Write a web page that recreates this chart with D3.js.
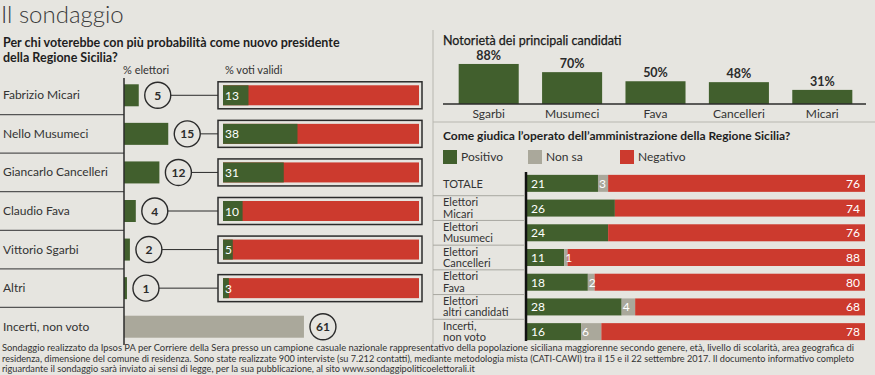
<!DOCTYPE html>
<html>
<head>
<meta charset="utf-8">
<script src="https://cdn.jsdelivr.net/npm/d3@7"></script>
<style>
  body { margin: 0; background: #e6e5e0; }
  svg { display: block; font-family: Lato, "Open Sans", sans-serif; }
</style>
</head>
<body>
<div id="chart"></div>
<script>
// --- data ---
const candidates = ["Fabrizio Micari", "Nello Musumeci", "Giancarlo Cancelleri", "Claudio Fava", "Vittorio Sgarbi", "Altri", "Incerti, non voto"];
const elettori = [5, 15, 12, 4, 2, 1, 61];
const votiValidi = [13, 38, 31, 10, 5, 3, null];

const notiNames = ["Sgarbi", "Musumeci", "Fava", "Cancelleri", "Micari"];
const notiValues = [88, 70, 50, 48, 31];

const groups = ["TOTALE", "Elettori|Micari", "Elettori|Musumeci", "Elettori|Cancelleri", "Elettori|Fava", "Elettori|altri candidati", "Incerti,|non voto"];
const positivo = [21, 26, 24, 11, 18, 28, 16];
const nonSa = [3, 0, 0, 1, 2, 4, 6];
const negativo = [76, 74, 76, 88, 80, 68, 78];

const footer = [
  "Sondaggio realizzato da Ipsos PA per Corriere della Sera presso un campione casuale nazionale rappresentativo della popolazione siciliana maggiorenne secondo genere, età, livello di scolarità, area geografica di",
  "residenza, dimensione del comune di residenza. Sono state realizzate 900 interviste (su 7.212 contatti), mediante metodologia mista (CATI-CAWI) tra il 15 e il 22 settembre 2017. Il documento informativo completo",
  "riguardante il sondaggio sarà inviato ai sensi di legge, per la sua pubblicazione, al sito www.sondaggipoliticoelettorali.it"
];

const green = "#415f2d", red = "#cc3a2e", grey = "#aaa89b", bg = "#e6e5e0", ink = "#2b2b2b";
const width = 875, height = 375;

const svg = d3.select("#chart").append("svg")
  .attr("width", width).attr("height", height);

svg.append("rect").attr("width", width).attr("height", height).attr("fill", bg);

// title
svg.append("text").attr("x", 1).attr("y", 23)
  .attr("font-size", 24).attr("font-weight", 300).attr("fill", "#3a3a3a")
  .text("Il sondaggio");

// dividers
svg.append("line").attr("x1", 433).attr("x2", 433).attr("y1", 30).attr("y2", 344)
  .attr("stroke", "#b8b7b0").attr("stroke-width", 1);
svg.append("line").attr("x1", 433).attr("x2", 875).attr("y1", 122).attr("y2", 122)
  .attr("stroke", "#b8b7b0").attr("stroke-width", 1);

// ---------- left panel ----------
const leftG = svg.append("g");
leftG.append("text").attr("x", 3).attr("y", 47).attr("font-size", 12.5).attr("font-weight", 700).attr("fill", "#1e1e1e")
  .text("Per chi voterebbe con più probabilità come nuovo presidente");
leftG.append("text").attr("x", 3).attr("y", 61.5).attr("font-size", 12.5).attr("font-weight", 700).attr("fill", "#1e1e1e")
  .text("della Regione Sicilia?");
leftG.append("text").attr("x", 123).attr("y", 74).attr("font-size", 11).attr("fill", "#333").text("% elettori");
leftG.append("text").attr("x", 225).attr("y", 74).attr("font-size", 11).attr("fill", "#333").text("% voti validi");

const yL = d3.scaleBand().domain(candidates).range([76, 346]);
const xL = d3.scaleLinear().domain([0, 100]).range([124, 419]);
const xV = d3.scaleLinear().domain([0, 100]).range([223, 419]);
const cy = d => yL(d) + yL.bandwidth() / 2;

const rows = leftG.selectAll("g.row").data(candidates).enter().append("g");

rows.append("text").attr("x", 3).attr("y", d => cy(d) + 4)
  .attr("font-size", 12).attr("fill", "#333").text(d => d);

// separators under names
leftG.selectAll("line.sep").data(candidates.slice(0, -1)).enter().append("line")
  .attr("x1", 0).attr("x2", 124)
  .attr("y1", d => yL(d) + yL.step()).attr("y2", d => yL(d) + yL.step())
  .attr("stroke", "#555").attr("stroke-width", 1.2);

rows.append("rect")
  .attr("x", xL(0)).attr("y", d => cy(d) - 11)
  .attr("width", (d, i) => xL(elettori[i]) - xL(0)).attr("height", 22)
  .attr("fill", (d, i) => i === candidates.length - 1 ? grey : green);

const r = 13;
const circX = (i) => xL(elettori[i]) + 19;

rows.filter((d, i) => votiValidi[i] != null).append("line")
  .attr("x1", d => circX(candidates.indexOf(d)) + r).attr("x2", 218)
  .attr("y1", d => cy(d)).attr("y2", d => cy(d))
  .attr("stroke", ink).attr("stroke-width", 1);

rows.append("circle").attr("cx", (d, i) => circX(i)).attr("cy", d => cy(d)).attr("r", r)
  .attr("fill", bg).attr("stroke", ink).attr("stroke-width", 1.4);
rows.append("text").attr("x", (d, i) => circX(i)).attr("y", d => cy(d) + 4.5)
  .attr("text-anchor", "middle").attr("font-size", 12).attr("font-weight", 700).attr("fill", ink)
  .text((d, i) => elettori[i]);

const boxed = rows.filter((d, i) => votiValidi[i] != null);
boxed.append("rect").attr("x", 218).attr("y", d => cy(d) - 13.5).attr("width", 204).attr("height", 27)
  .attr("fill", "none").attr("stroke", ink).attr("stroke-width", 1.5);
boxed.append("rect").attr("x", xV(0)).attr("y", d => cy(d) - 10).attr("width", xV(100) - xV(0)).attr("height", 20)
  .attr("fill", red);
boxed.append("rect").attr("x", xV(0)).attr("y", d => cy(d) - 10)
  .attr("width", d => xV(votiValidi[candidates.indexOf(d)]) - xV(0)).attr("height", 20)
  .attr("fill", green);
boxed.append("text").attr("x", xV(0) + 2).attr("y", d => cy(d) + 4.5)
  .attr("font-size", 12).attr("fill", "#fff").text(d => votiValidi[candidates.indexOf(d)]);

leftG.append("line").attr("x1", 124).attr("x2", 124).attr("y1", 78).attr("y2", 345)
  .attr("stroke", ink).attr("stroke-width", 1.5);

// ---------- notorietà ----------
const notoG = svg.append("g");
notoG.append("text").attr("x", 443).attr("y", 45).attr("font-size", 12.5).attr("fill", "#1a1a1a")
  .attr("stroke", "#1a1a1a").attr("stroke-width", 0.25)
  .text("Notorietà dei principali candidati");

const xN = d3.scaleBand().domain(notiNames).range([447, 864]).paddingInner(0.28).paddingOuter(0.14);
const yN = d3.scaleLinear().domain([0, 100]).range([104, 58.5]);

notoG.selectAll("rect").data(notiNames).enter().append("rect")
  .attr("x", d => xN(d)).attr("width", xN.bandwidth())
  .attr("y", (d, i) => yN(notiValues[i])).attr("height", (d, i) => yN(0) - yN(notiValues[i]))
  .attr("fill", green);
notoG.selectAll("text.val").data(notiNames).enter().append("text")
  .attr("x", d => xN(d) + xN.bandwidth() / 2).attr("y", (d, i) => yN(notiValues[i]) - 4)
  .attr("text-anchor", "middle").attr("font-size", 12.5).attr("font-weight", 700).attr("fill", ink)
  .text((d, i) => notiValues[i] + "%");
notoG.selectAll("text.cat").data(notiNames).enter().append("text")
  .attr("x", d => xN(d) + xN.bandwidth() / 2).attr("y", 118)
  .attr("text-anchor", "middle").attr("font-size", 12).attr("fill", "#333")
  .text(d => d);
notoG.append("line").attr("x1", 443).attr("x2", 866).attr("y1", yN(0)).attr("y2", yN(0))
  .attr("stroke", ink).attr("stroke-width", 1.5);

// ---------- giudizio ----------
const giudG = svg.append("g");
giudG.append("text").attr("x", 443).attr("y", 140).attr("font-size", 12).attr("font-weight", 700).attr("fill", "#1e1e1e")
  .text("Come giudica l\u2019operato dell\u2019amministrazione della Regione Sicilia?");

const legend = [["Positivo", green, 443], ["Non sa", grey, 528], ["Negativo", red, 620]];
legend.forEach(([t, c, x]) => {
  giudG.append("rect").attr("x", x).attr("y", 150).attr("width", 14).attr("height", 14).attr("fill", c);
  giudG.append("text").attr("x", x + 18).attr("y", 161).attr("font-size", 12).attr("fill", "#333").text(t);
});

const yG = d3.scaleBand().domain(groups).range([171, 344]);
const xG = d3.scaleLinear().domain([0, 100]).range([527, 865]);
const gy = d => yG(d) + yG.bandwidth() / 2;

const stack = groups.map((g, i) => [
  { x0: 0, x1: positivo[i], c: green },
  { x0: positivo[i], x1: positivo[i] + nonSa[i], c: grey },
  { x0: positivo[i] + nonSa[i], x1: 100, c: red }
]);

const grows = giudG.selectAll("g.grow").data(groups).enter().append("g");
grows.selectAll("rect").data((d, i) => stack[i].map(s => ({ ...s, g: d }))).enter().append("rect")
  .attr("x", s => xG(s.x0)).attr("width", s => xG(s.x1) - xG(s.x0))
  .attr("y", s => gy(s.g) - 8.5).attr("height", 17).attr("fill", s => s.c);

grows.append("text").attr("x", xG(0) + 4).attr("y", d => gy(d) + 4.5)
  .attr("font-size", 12).attr("fill", "#fff").text((d, i) => positivo[i]);
grows.filter((d, i) => nonSa[i] > 0).append("text")
  .attr("x", d => xG(positivo[groups.indexOf(d)]) + 1).attr("y", d => gy(d) + 4.5)
  .attr("font-size", 12).attr("fill", "#fff").text(d => nonSa[groups.indexOf(d)]);
grows.append("text").attr("x", xG(100) - 5).attr("y", d => gy(d) + 4.5)
  .attr("text-anchor", "end").attr("font-size", 12).attr("fill", "#fff").text((d, i) => negativo[i]);

// row labels (two lines, tight leading as in the print)
grows.each(function (d) {
  const lines = d.split("|");
  const t = d3.select(this).append("text").attr("font-size", 11).attr("fill", "#333");
  if (lines.length === 1) {
    t.append("tspan").attr("x", 443).attr("y", gy(d) + 4.5).text(lines[0]);
  } else {
    t.append("tspan").attr("x", 443).attr("y", gy(d) - 2).attr("dy", 0).text(lines[0]);
    t.append("tspan").attr("x", 443).attr("y", gy(d) + 9.5).text(lines[1]);
  }
});
giudG.selectAll("line.gsep").data(groups.slice(0, -1)).enter().append("line")
  .attr("x1", 433).attr("x2", 524)
  .attr("y1", d => yG(d) + yG.step()).attr("y2", d => yG(d) + yG.step())
  .attr("stroke", "#a8a7a0").attr("stroke-width", 1);

giudG.append("line").attr("x1", 526).attr("x2", 526).attr("y1", 172).attr("y2", 341)
  .attr("stroke", "#111").attr("stroke-width", 2.5);

// ---------- footer ----------
svg.selectAll("text.foot").data(footer).enter().append("text")
  .attr("x", 2).attr("y", (d, i) => 351 + i * 10.5)
  .attr("font-size", 9.2).attr("fill", "#333")
  .attr("textLength", (d, i) => i < 2 ? 852 : null)
  .attr("lengthAdjust", "spacingAndGlyphs")
  .text(d => d);
</script>
</body>
</html>
